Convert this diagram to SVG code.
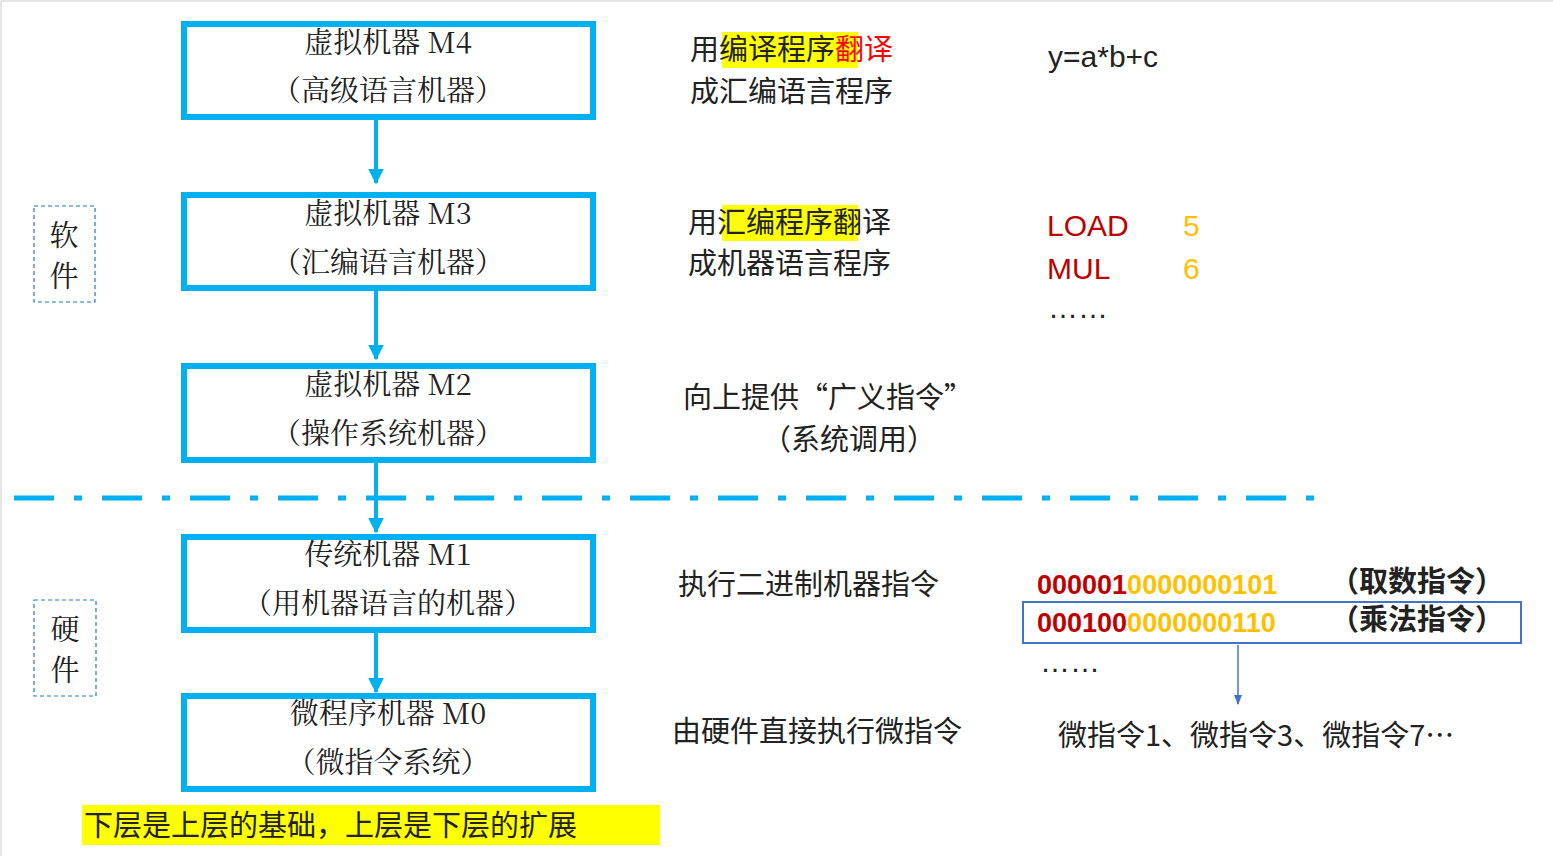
<svg xmlns="http://www.w3.org/2000/svg" width="1553" height="856" viewBox="0 0 1553 856">
<style>
.box{fill:#fff;stroke:#00b0f0;stroke-width:6}
.t{font-family:"Noto Serif CJK SC","Noto Sans CJK SC",serif;font-size:29px;fill:#222;text-anchor:middle}
.r{font-family:"Noto Sans CJK SC",sans-serif;font-size:29px;fill:#222}
.s{font-family:"Liberation Sans",sans-serif;font-size:30px}
.b{font-family:"Liberation Sans",sans-serif;font-size:27px;font-weight:bold}
.con{stroke:#00b0f0;stroke-width:4;fill:none}
</style>
<defs>
<marker id="a" viewBox="0 0 10 10" refX="9" refY="5" markerWidth="4" markerHeight="4" orient="auto"><path d="M0,0L10,5L0,10z" fill="#00b0f0"/></marker>
<marker id="a2" viewBox="0 0 10 10" refX="9" refY="5" markerWidth="7" markerHeight="7" orient="auto"><path d="M0,1L10,5L0,9z" fill="#4472c4"/></marker>
</defs>
<rect width="1553" height="856" fill="#fff"/>
<path d="M1,856V1H1553" stroke="#ccc" fill="none"/>
<g id="connectors">
<line class="con" x1="376" y1="118" x2="376" y2="183" marker-end="url(#a)"/>
<line class="con" x1="376" y1="289" x2="376" y2="359" marker-end="url(#a)"/>
<line class="con" x1="376" y1="461" x2="376" y2="532" marker-end="url(#a)"/>
<line class="con" x1="376" y1="631" x2="376" y2="692" marker-end="url(#a)"/>
<line x1="14" y1="498" x2="1328" y2="498" stroke="#00b0f0" stroke-width="5" stroke-dasharray="40,20,8,20"/>
<line x1="1238" y1="645" x2="1238" y2="704" stroke="#4472c4" stroke-width="1.5" marker-end="url(#a2)"/>
</g>
<g id="M4"><rect class="box" x="184" y="24" width="409" height="93"/><text class="t" x="388" y="53">虚拟机器 M4</text><text class="t" x="388" y="101">（高级语言机器）</text></g>
<g id="M3"><rect class="box" x="184" y="195" width="409" height="93"/><text class="t" x="388" y="224">虚拟机器 M3</text><text class="t" x="388" y="273">（汇编语言机器）</text></g>
<g id="M2"><rect class="box" x="184" y="366" width="409" height="94"/><text class="t" x="388" y="395">虚拟机器 M2</text><text class="t" x="388" y="444">（操作系统机器）</text></g>
<g id="M1"><rect class="box" x="184" y="537" width="409" height="93"/><text class="t" x="388" y="565">传统机器 M1</text><text class="t" x="388" y="614">（用机器语言的机器）</text></g>
<g id="M0"><rect class="box" x="184" y="696" width="409" height="93"/><text class="t" x="388" y="724">微程序机器 M0</text><text class="t" x="388" y="773">（微指令系统）</text></g>
<g id="soft"><rect x="34" y="206" width="61" height="96" fill="none" stroke="#1a7fc0" stroke-width="1.2" stroke-dasharray="4,3"/><text class="t" x="64" y="246">软</text><text class="t" x="64" y="287">件</text></g>
<g id="hard"><rect x="34" y="600" width="62" height="96" fill="none" stroke="#1a7fc0" stroke-width="1.2" stroke-dasharray="4,3"/><text class="t" x="65" y="640">硬</text><text class="t" x="65" y="681">件</text></g>
<rect x="722" y="32" width="136" height="36" fill="#ffff00"/>
<rect x="722" y="205" width="136" height="36" fill="#ffff00"/>
<text class="r" x="690" y="60">用编译程序<tspan fill="#ff0000">翻译</tspan></text>
<text class="r" x="690" y="102">成汇编语言程序</text>
<text class="r" x="688" y="233">用汇编程序翻译</text>
<text class="r" x="688" y="274">成机器语言程序</text>
<text class="r" x="683" y="408">向上提供“广义指令”</text>
<text class="r" x="762" y="450">（系统调用）</text>
<text class="r" x="678" y="595">执行二进制机器指令</text>
<text class="r" x="672" y="742">由硬件直接执行微指令</text>
<text class="s" x="1048" y="67" fill="#222">y=a*b+c</text>
<text class="s" x="1047" y="236" fill="#c00000">LOAD</text><text class="s" x="1183" y="236" fill="#ffc000">5</text>
<text class="s" x="1047" y="279" fill="#c00000">MUL</text><text class="s" x="1183" y="279" fill="#ffc000">6</text>
<text class="s" x="1048" y="318" fill="#222">……</text>
<text class="b" x="1037" y="594" fill="#c00000">000001<tspan fill="#ffc000">0000000101</tspan></text>
<text class="r" x="1330" y="592" font-weight="bold">（取数指令）</text>
<rect x="1023" y="602" width="498" height="41" fill="none" stroke="#4472c4" stroke-width="2"/>
<text class="b" x="1037" y="632" fill="#c00000">000100<tspan fill="#ffc000">0000000110</tspan></text>
<text class="r" x="1330" y="630" font-weight="bold">（乘法指令）</text>
<text class="s" x="1040" y="672" fill="#222">……</text>
<text class="r" x="1058" y="746">微指令1、微指令3、微指令7…</text>
<rect x="82" y="805" width="578" height="40" fill="#ffff00"/>
<text class="r" x="84" y="836">下层是上层的基础，上层是下层的扩展</text>
</svg>
